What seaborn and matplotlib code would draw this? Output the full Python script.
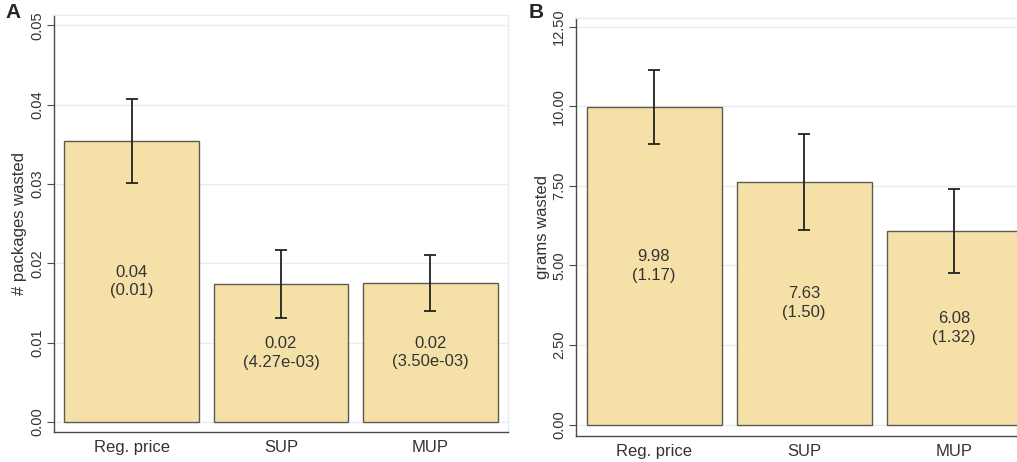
import matplotlib
matplotlib.use("Agg")
import matplotlib.pyplot as plt
import numpy as np
import pandas as pd
import seaborn as sns

# data
groups = ["Reg. price", "SUP", "MUP"]

packages_mean = [0.0354, 0.0174, 0.0175]
packages_se = [0.0053, 0.00427, 0.0035]
packages_se_labels = ["0.01", "4.27e-03", "3.50e-03"]

grams_mean = [9.98, 7.63, 6.08]
grams_se = [1.17, 1.50, 1.32]
grams_se_labels = ["1.17", "1.50", "1.32"]

sns.set_style("white")
plt.rcParams["font.family"] = ["Liberation Sans", "DejaVu Sans"]

bar_color = "#f5e1a8"
edge_color = "#5e5a50"
grid_color = "#e4eef1"
axis_color = "#4a4a4a"

fig = plt.figure(figsize=(10.17, 4.62), dpi=100)
W, H = 1017, 462

# axes boxes in pixels: left, bottom(from top), right, top(from top)
ax_a = fig.add_axes([54 / W, (H - 432) / H, 454 / W, 417 / H])
ax_b = fig.add_axes([576 / W, (H - 436) / H, 456 / W, 418 / H])


def draw_panel(ax, means, ses, se_labels, ylabel, ylim, yticks):
    df = pd.DataFrame({"group": groups, "mean": means, "se": ses})
    sns.barplot(data=df, x="group", y="mean", order=groups, color=bar_color,
                saturation=1, width=0.9, edgecolor=edge_color, linewidth=1.0,
                errorbar=None, ax=ax)
    xs = np.arange(len(groups))
    ax.errorbar(xs, df["mean"], yerr=df["se"], fmt="none", ecolor="#222222",
                elinewidth=1.3, capsize=4, capthick=1.3, zorder=5)
    for x, m, lab in zip(xs, means, se_labels):
        ax.text(x, m / 2, f"{m:.2f}\n({lab})", ha="center", va="center",
                fontsize=12, color="#333333", linespacing=1.3)
    ax.set_ylim(*ylim)
    ax.set_xlim(-0.52, 2.52)
    ax.set_yticks(yticks)
    ax.set_yticklabels([f"{t:.2f}" for t in yticks], rotation=90, va="center",
                       fontsize=10.5, color="#333333")
    ax.tick_params(axis="y", length=5, width=0.8, color=axis_color, pad=2, left=True)
    ax.tick_params(axis="x", length=0, labelsize=12, labelcolor="#333333", pad=6)
    ax.yaxis.grid(True, color=grid_color, linewidth=1.0)
    ax.set_axisbelow(True)
    ax.set_xlabel("")
    ax.set_ylabel(ylabel, fontsize=12, color="#333333", labelpad=2)
    for side in ["left", "bottom"]:
        ax.spines[side].set_color(axis_color)
        ax.spines[side].set_linewidth(1.0)
    for side in ["top", "right"]:
        ax.spines[side].set_color(grid_color)
        ax.spines[side].set_linewidth(1.0)


draw_panel(ax_a, packages_mean, packages_se, packages_se_labels,
           "# packages wasted", (-0.00126, 0.0513), [0, 0.01, 0.02, 0.03, 0.04, 0.05])
draw_panel(ax_b, grams_mean, grams_se, grams_se_labels,
           "grams wasted", (-0.36, 12.78), [0, 2.5, 5.0, 7.5, 10.0, 12.5])

fig.text(5 / W, 1 - 3 / H, "A", fontsize=15, fontweight="bold", ha="left", va="top")
fig.text(529 / W, 1 - 3 / H, "B", fontsize=15, fontweight="bold", ha="left", va="top")

fig.savefig("out.png", dpi=100, facecolor="white")
